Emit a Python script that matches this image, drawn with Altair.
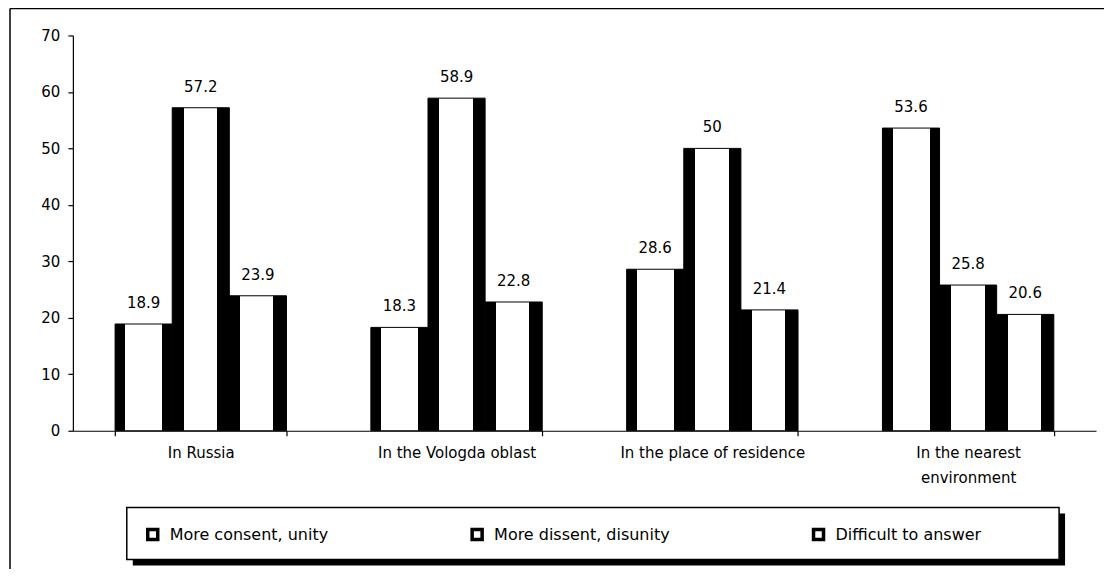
import altair as alt
import pandas as pd

categories = ["In Russia", "In the Vologda oblast", "In the place of residence", "In the nearest environment"]
series = ["More consent, unity", "More dissent, disunity", "Difficult to answer"]
consent = [18.9, 18.3, 28.6, 53.6]
dissent = [57.2, 58.9, 50.0, 25.8]
difficult = [23.9, 22.8, 21.4, 20.6]

rows = []
for i, c in enumerate(categories):
    for s, vals in zip(series, [consent, dissent, difficult]):
        rows.append({"category": c, "series": s, "value": vals[i]})
df = pd.DataFrame(rows)

FONT = "DejaVu Sans"


def grad(left, right):
    return {
        "gradient": "linear", "x1": 0, "x2": 1, "y1": 0, "y2": 0,
        "stops": [
            {"offset": 0, "color": "black"},
            {"offset": left, "color": "black"},
            {"offset": left + 0.001, "color": "white"},
            {"offset": right - 0.001, "color": "white"},
            {"offset": right, "color": "black"},
            {"offset": 1, "color": "black"},
        ],
    }


grads = [grad(0.18, 0.83), grad(0.2, 0.79), grad(0.19, 0.77)]

x_enc = alt.X("category:N", sort=categories,
              scale=alt.Scale(paddingInner=0.33, paddingOuter=0.165),
              axis=alt.Axis(title=None, labelAngle=0, tickBand="extent", labelLimit=500,
                            labelExpr="datum.label == 'In the nearest environment' ? ['In the nearest', 'environment'] : datum.label",
                            labelPadding=17, labelLineHeight=25, labelBaseline="middle"))
xo_enc = alt.XOffset("series:N", scale=alt.Scale(domain=series, paddingInner=0, paddingOuter=0))
y_scale = alt.Scale(domain=[0, 70], nice=False)
y_axis = alt.Axis(title=None, values=list(range(0, 71, 10)), grid=False, labelPadding=8)
y_enc = alt.Y("value:Q", scale=y_scale, axis=y_axis)

base = alt.Chart(df)

legend_layer = base.transform_calculate(half="datum.value / 2").mark_square(
    filled=True, stroke="black", strokeWidth=3.5, size=100, opacity=1
).encode(
    x=x_enc, xOffset=xo_enc,
    y=alt.Y("half:Q", scale=y_scale, axis=y_axis),
    color=alt.Color("series:N", scale=alt.Scale(domain=series, range=["white", "white", "white"]),
                    legend=alt.Legend(orient="none", legendX=72, legendY=492, direction="horizontal",
                                      title=None, labelFont=FONT, labelFontSize=16, labelColor="black",
                                      labelLimit=500, columnPadding=137, labelOffset=9, symbolType="square",
                                      symbolSize=100, symbolStrokeWidth=3.5, symbolStrokeColor="black",
                                      symbolFillColor="white", symbolOpacity=1, padding=0)),
)

bar_layers = []
for s, g in zip(series, grads):
    bar_layers.append(
        base.transform_filter(alt.datum.series == s)
        .mark_bar(fill=g, stroke="black", strokeWidth=1)
        .encode(x=x_enc, xOffset=xo_enc, y=y_enc)
    )

labels = base.mark_text(baseline="bottom", dy=-13, font=FONT, fontSize=15, color="black").encode(
    x=x_enc, xOffset=xo_enc, y=y_enc, text=alt.Text("value:Q")
)

one = alt.Data(values=[{}])
border_left = alt.Chart(one).mark_rule(color="black", strokeWidth=1.5).encode(
    x=alt.value(-63), y=alt.value(-27), y2=alt.value(700))
border_top = alt.Chart(one).mark_rule(color="black", strokeWidth=1.5).encode(
    x=alt.value(-63), x2=alt.value(1200), y=alt.value(-27))
shadow = alt.Chart(one).mark_rect(color="black").encode(
    x=alt.value(60), x2=alt.value(994), y=alt.value(479), y2=alt.value(531))
box = alt.Chart(one).mark_rect(fill="white", stroke="black", strokeWidth=1.5).encode(
    x=alt.value(54), x2=alt.value(988), y=alt.value(473), y2=alt.value(525))

chart = alt.layer(
    border_left, border_top, legend_layer, *bar_layers, labels, shadow, box
).properties(
    width=1025, height=396,
    autosize=alt.AutoSizeParams(type="none"),
    padding={"left": 65, "top": 27, "right": 8, "bottom": 138},
).configure_view(stroke=None).configure_axis(
    domainColor="black", tickColor="black", labelColor="black", labelFont=FONT,
    labelFontSize=15, tickSize=5, domainWidth=1.2, tickWidth=1.2
)

chart.save("out.html", embed_options={"renderer": "svg", "actions": False})
